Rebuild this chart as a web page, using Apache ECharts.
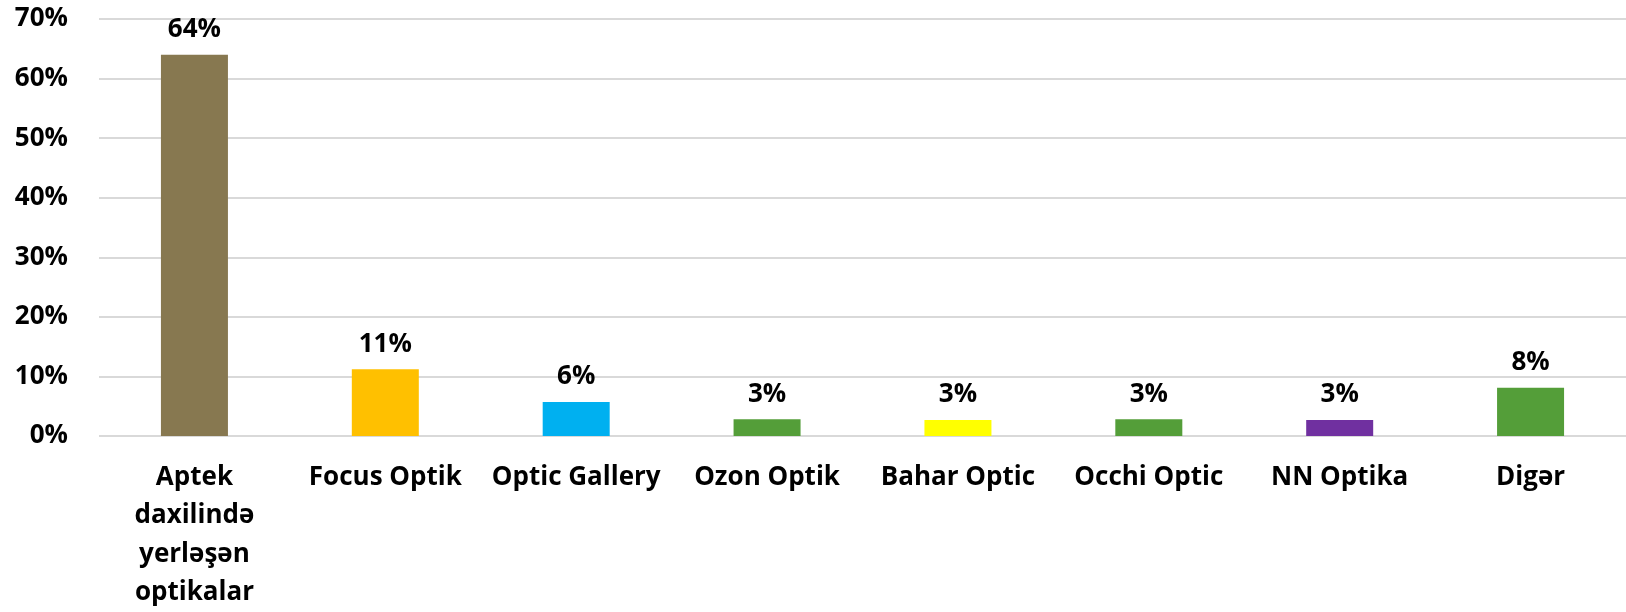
<!DOCTYPE html>
<html>
<head>
<meta charset="utf-8">
<script src="https://cdn.jsdelivr.net/npm/echarts@6/dist/echarts.min.js"></script>
<style>
  html, body { margin: 0; padding: 0; background: #fff; }
  #chart { width: 1626px; height: 612px; }
</style>
</head>
<body>
<div id="chart"></div>
<script>
// chart data
const categories = ['Aptek\ndaxilində\nyerləşən\noptikalar', 'Focus Optik', 'Optic Gallery', 'Ozon Optik', 'Bahar Optic', 'Occhi Optic', 'NN Optika', 'Digər'];
const shares = [64, 11.2, 5.7, 2.8, 2.7, 2.8, 2.7, 8.1];
const barColors = ['#877850', '#FFC000', '#00B0F0', '#549E39', '#FFFF00', '#549E39', '#7030A0', '#549E39'];
const yTicks = [0, 10, 20, 30, 40, 50, 60, 70];

const font = '"Open Sans", sans-serif';

const chartDom = document.getElementById('chart');
const myChart = echarts.init(chartDom);

const option = {
    animation: false,
    grid: {
        left: 99,
        top: 19,
        width: 1530,
        height: 417.5,
    },
    xAxis: {
        type: 'category',
        data: categories,
        axisTick: { show: false },
        axisLine: { show: false },
        axisLabel: {
            interval: 0,
            margin: 22,
            color: '#000',
            fontFamily: font,
            fontWeight: 'bold',
            fontSize: 26,
            lineHeight: 38.5,
        },
    },
    yAxis: {
        type: 'value',
        min: yTicks[0],
        max: yTicks[yTicks.length - 1],
        interval: 10,
        axisLine: { show: false },
        axisTick: { show: false },
        splitLine: { lineStyle: { color: '#d9d9d9', width: 2 } },
        axisLabel: {
            margin: 31,
            color: '#000',
            fontFamily: font,
            fontWeight: 'bold',
            fontSize: 26,
            formatter: (v) => v + '%',
        },
    },
    series: [
        {
            type: 'bar',
            barWidth: 67,
            data: shares.map((v, i) => ({ value: v, itemStyle: { color: barColors[i] } })),
            label: {
                show: true,
                position: 'top',
                distance: 12,
                color: '#000',
                fontFamily: font,
                fontWeight: 'bold',
                fontSize: 26,
                formatter: (p) => Math.round(p.value) + '%',
            },
        },
    ],
};
myChart.setOption(option);
</script>
</body>
</html>
